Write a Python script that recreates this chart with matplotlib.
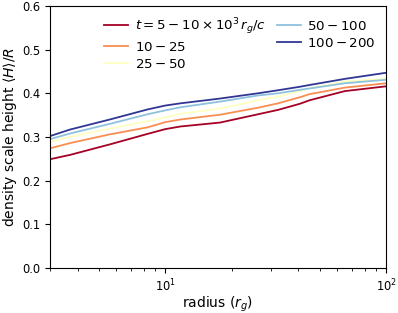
import matplotlib
matplotlib.use("Agg")
from matplotlib import pyplot as plt

# radius (r_g) and density scale height <H>/R for each time window
radius = [3, 3.7, 5.6, 8.3, 10, 11.7, 17.7, 26.3, 32.4, 40.7, 45, 65, 100]

h_5_10 = [0.249, 0.259, 0.283, 0.307, 0.318, 0.324, 0.333, 0.352, 0.362, 0.376, 0.384, 0.405, 0.416]
h_10_25 = [0.274, 0.286, 0.306, 0.322, 0.334, 0.340, 0.351, 0.367, 0.377, 0.391, 0.398, 0.413, 0.423]
h_25_50 = [0.289, 0.300, 0.319, 0.336, 0.345, 0.353, 0.365, 0.384, 0.392, 0.405, 0.412, 0.427, 0.434]
h_50_100 = [0.295, 0.308, 0.330, 0.352, 0.361, 0.368, 0.381, 0.395, 0.400, 0.408, 0.411, 0.423, 0.431]
h_100_200 = [0.302, 0.317, 0.340, 0.363, 0.372, 0.377, 0.388, 0.400, 0.407, 0.415, 0.419, 0.433, 0.447]

labels = [r"$t=5-10\times10^3\,r_g/c$", r"$10-25$", r"$25-50$", r"$50-100$", r"$100-200$"]
series = [h_5_10, h_10_25, h_25_50, h_50_100, h_100_200]

cmap = plt.get_cmap("RdYlBu")
colors = [cmap(i / 4) for i in range(5)]

plt.rcParams['font.size'] = 10

fig = plt.figure(figsize=(3.98, 3.13), dpi=100)
ax = fig.add_axes([0.1256, 0.1438, 0.8444, 0.8372])

for h, lab, c in zip(series, labels, colors):
    ax.plot(radius, h, color=c, lw=1.3, label=lab)

ax.set_xscale('log')
ax.set_xlim(3, 100)
ax.set_ylim(0, 0.6)
ax.tick_params(labelsize=8.3)
ax.set_xlabel(r"radius ($r_g$)", fontsize=10, labelpad=0)
ax.set_ylabel(r"density scale height $\langle H\rangle/R$", fontsize=10, labelpad=2)
ax.legend(ncol=2, frameon=False, loc='upper right', fontsize=9.6,
          handlelength=1.8, handletextpad=0.5, columnspacing=0.8, labelspacing=0.3,
          borderaxespad=0.35)

fig.savefig("out.png", dpi=100)
